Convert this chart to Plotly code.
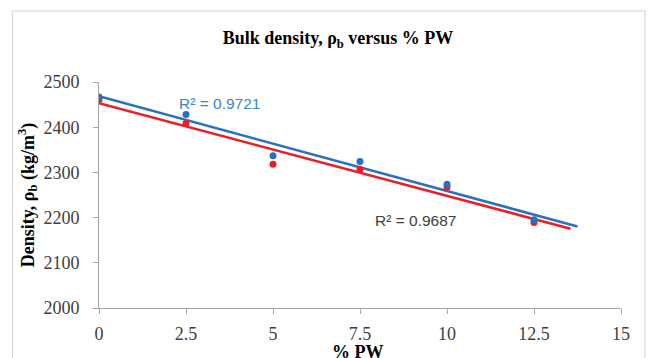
import numpy as np
import plotly.graph_objects as go

pw = [0, 2.5, 5, 7.5, 10, 12.5]
density_blue = [2467, 2428, 2337, 2324, 2274, 2195]
density_red = [2461, 2408, 2318, 2307, 2267, 2189]
trend_end_blue = 13.75
trend_end_red = 13.55
r2_blue = "R² = 0.9721"
r2_red = "R² = 0.9687"
x_ticks = [0, 2.5, 5, 7.5, 10, 12.5, 15]
y_ticks = [2000, 2100, 2200, 2300, 2400, 2500]

BLUE = "#2671C2"
RED = "#EE1D25"
SERIF = "Liberation Serif, Times New Roman"

fig = go.Figure()

def trend(xs, ys, end):
    m, c = np.polyfit(xs, ys, 1)
    tx = np.array([0, end])
    return tx, m * tx + c

for ys, col, end in [(density_red, RED, trend_end_red), (density_blue, BLUE, trend_end_blue)]:
    tx, ty = trend(pw, ys, end)
    fig.add_trace(go.Scatter(x=tx, y=ty, mode="lines", line=dict(color=col, width=2.5),
                             showlegend=False, hoverinfo="skip"))
for ys, col in [(density_red, RED), (density_blue, BLUE)]:
    fig.add_trace(go.Scatter(x=pw, y=ys, mode="markers", marker=dict(color=col, size=7),
                             showlegend=False))

fig.add_annotation(x=3.45, y=2453, text=r2_blue, showarrow=False,
                   font=dict(family="Liberation Sans, Arial", size=15.5, color="#3A86CC"))
fig.add_annotation(x=9.09, y=2193, text=r2_red, showarrow=False,
                   font=dict(family="Liberation Sans, Arial", size=15.5, color="#404040"))
# x-axis title (placed as annotation so it can sit partly below the frame, as in the reference)
fig.add_annotation(xref="paper", yref="paper", x=0.496, y=-0.195, yanchor="middle",
                   text="<b>% PW</b>", showarrow=False,
                   font=dict(family=SERIF, size=18, color="#000000"))

fig.add_shape(type="rect", xref="paper", yref="paper", x0=-0.166, x1=1.046, y0=-0.4, y1=1.314,
              line=dict(color="#D0D0D0", width=1), fillcolor="rgba(0,0,0,0)", layer="below")

fig.update_layout(
    width=651, height=358,
    margin=dict(l=99, r=30, t=82, b=50),
    paper_bgcolor="white", plot_bgcolor="white",
    title=dict(text="<b>Bulk density, ρ<sub>b</sub> versus % PW</b>", x=338 / 651, xanchor="center",
               y=1 - 38 / 358, yanchor="middle",
               font=dict(family=SERIF, size=18, color="#000000")),
    xaxis=dict(range=[0, 15], tickvals=x_ticks, ticktext=[str(v) for v in x_ticks],
               automargin=False,
               showgrid=False, zeroline=False, showline=True, linecolor="#A6A6A6", linewidth=1,
               ticks="outside", ticklen=5, tickcolor="#A6A6A6", ticklabelstandoff=4,
               tickfont=dict(family=SERIF, size=18, color="#404040")),
    yaxis=dict(range=[2000, 2500], tickvals=y_ticks,
               automargin=False,
               showgrid=False, zeroline=False, showline=True, linecolor="#A6A6A6", linewidth=1,
               ticks="outside", ticklen=5, tickcolor="#A6A6A6", ticklabelstandoff=10,
               tickfont=dict(family=SERIF, size=18, color="#404040"),
               title=dict(text="<b>Density, ρ<sub>b</sub> (kg/m<sup>3</sup>)</b>", standoff=4,
                          font=dict(family=SERIF, size=18, color="#000000"))),
)

fig.write_html("out.html")
